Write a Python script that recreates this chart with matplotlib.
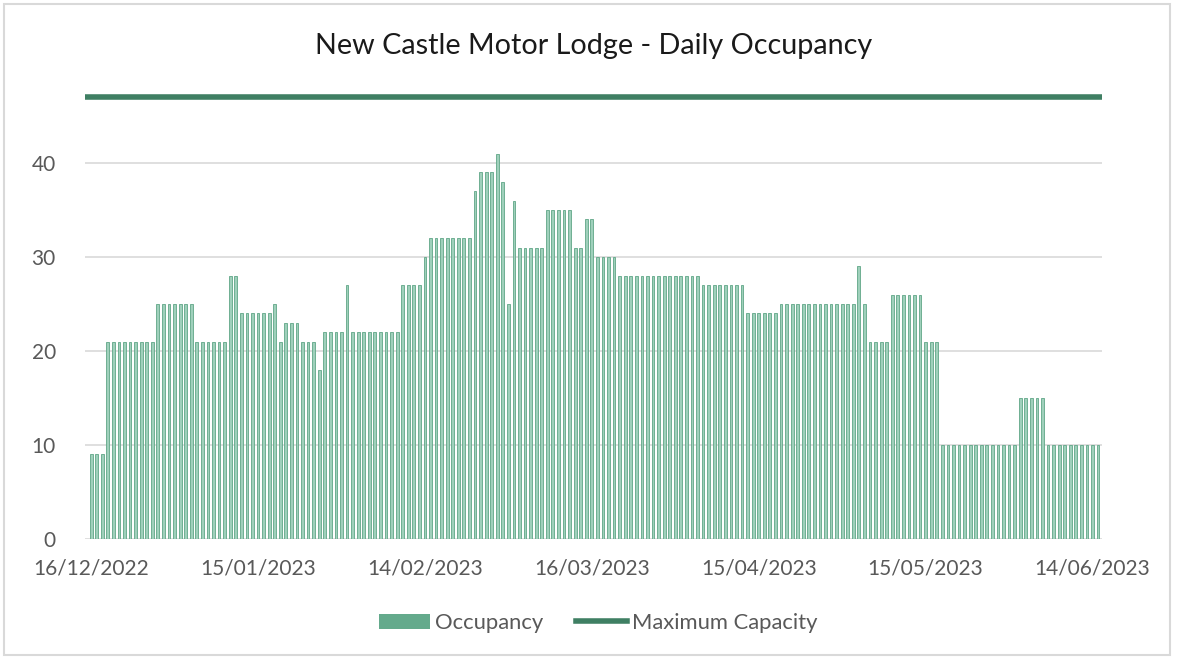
import matplotlib
matplotlib.use("Agg")
import matplotlib.pyplot as plt
import numpy as np
import pandas as pd
from matplotlib.patches import Rectangle
from matplotlib.lines import Line2D

plt.rcParams['font.family'] = ['Lato', 'DejaVu Sans']

title = "New Castle Motor Lodge - Daily Occupancy"
start_date = "2022-12-16"
occupancy = [
    9, 9, 9, 21, 21, 21, 21, 21, 21, 21, 21, 21,
    25, 25, 25, 25, 25, 25, 25, 21, 21, 21, 21, 21, 21,
    28, 28, 24, 24, 24, 24, 24, 24, 25, 21, 23, 23, 23,
    21, 21, 21, 18, 22, 22, 22, 22, 27,
    22, 22, 22, 22, 22, 22, 22, 22, 22, 27, 27, 27, 27, 30,
    32, 32, 32, 32, 32, 32, 32, 32, 37, 39, 39, 39, 41, 38, 25, 36,
    31, 31, 31, 31, 31, 35, 35, 35, 35, 35, 31, 31, 34, 34,
    30, 30, 30, 30,
    28, 28, 28, 28, 28, 28, 28, 28, 28, 28, 28, 28, 28, 28, 28,
    27, 27, 27, 27, 27, 27, 27, 27,
    24, 24, 24, 24, 24, 24,
    25, 25, 25, 25, 25, 25, 25, 25, 25, 25, 25, 25, 25, 25,
    29, 25, 21, 21, 21, 21, 26, 26, 26, 26, 26, 26, 21, 21, 21,
    10, 10, 10, 10, 10, 10, 10, 10, 10, 10, 10, 10, 10, 10,
    15, 15, 15, 15, 15,
    10, 10, 10, 10, 10, 10, 10, 10, 10, 10,
]
max_capacity = 47
yticks = [0, 10, 20, 30, 40]
xtick_labels = ["16/12/2022", "15/01/2023", "14/02/2023", "16/03/2023",
                "15/04/2023", "15/05/2023", "14/06/2023"]

dates = pd.date_range(start_date, periods=len(occupancy), freq="D")
day_index = np.array((dates - dates[0]).days)
label_pos = [(pd.to_datetime(l, format="%d/%m/%Y") - dates[0]).days for l in xtick_labels]

W, H = 1182, 659
fig = plt.figure(figsize=(W / 100, H / 100), dpi=100)
fig.patch.set_facecolor("white")

# outer border
fig.add_artist(Rectangle((4 / W, 4 / H), 1166 / W, 651 / H, transform=fig.transFigure,
                         fill=False, edgecolor="#d9d9d9", linewidth=1.5))

ax = fig.add_axes([85 / W, (H - 539) / H, (1102 - 85) / W, (539 - 87.8) / H])

bar_color = "#64aa8c"
line_color = "#3f7f63"

ax.bar(day_index, occupancy, width=0.5, color="#9fd0bb", edgecolor="#5fa687",
       linewidth=0.6, zorder=2)
ax.axhline(max_capacity, color=line_color, linewidth=4, zorder=3)

ax.set_ylim(0, 48)
ax.set_xlim(-1.1, 181.7)
ax.set_yticks(yticks)
ax.set_xticks(label_pos)
ax.set_xticklabels(xtick_labels)
ax.grid(axis="y", color="#d9d9d9", linewidth=1.2, zorder=0)
ax.set_axisbelow(True)
for s in ax.spines.values():
    s.set_visible(False)
ax.tick_params(axis="both", length=0, labelsize=15, colors="#595959")
ax.tick_params(axis="x", pad=14)
ax.tick_params(axis="y", pad=21)

fig.text(594 / W, 1 - 46 / H, title, ha="center", va="center", fontsize=20.7, color="#1a1a1a")

handles = [Rectangle((0, 0), 1, 1, facecolor=bar_color, edgecolor="none"),
           Line2D([0], [0], color=line_color, linewidth=4)]
fig.legend(handles, ["Occupancy", "Maximum Capacity"], loc="center",
           bbox_to_anchor=(598 / W, 1 - 623 / H), ncol=2, frameon=False,
           fontsize=15.8, handlelength=2.35, handleheight=0.7, handletextpad=0.2,
           columnspacing=1.5, labelcolor="#595959")

fig.savefig("out.png", dpi=100, facecolor="white")
